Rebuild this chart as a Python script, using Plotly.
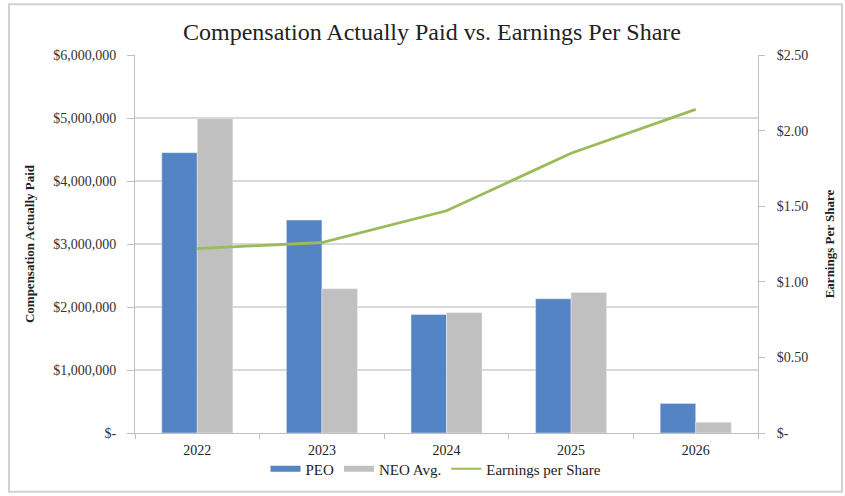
import plotly.graph_objects as go

years = ["2022", "2023", "2024", "2025", "2026"]
peo = [4450000, 3380000, 1880000, 2130000, 470000]
neo_avg = [4990000, 2290000, 1910000, 2230000, 170000]
eps = [1.22, 1.26, 1.47, 1.85, 2.14]

left_ticks = [0, 1000000, 2000000, 3000000, 4000000, 5000000, 6000000]
left_text = ["$-", "$1,000,000", "$2,000,000", "$3,000,000", "$4,000,000", "$5,000,000", "$6,000,000"]
right_ticks = [0, 0.5, 1.0, 1.5, 2.0, 2.5]
right_text = ["$-", "$0.50", "$1.00", "$1.50", "$2.00", "$2.50"]

BLUE = "#5484C4"
GRAY = "#C0C0C0"
GREEN = "#9BBB59"
FONT = "Liberation Serif"

fig = go.Figure()
fig.add_trace(go.Bar(x=years, y=peo, name="PEO", marker_color=BLUE, showlegend=False))
fig.add_trace(go.Bar(x=years, y=neo_avg, name="NEO Avg.", marker_color=GRAY, showlegend=False))
fig.add_trace(go.Scatter(x=years, y=eps, name="Earnings per Share", mode="lines",
                         line=dict(color=GREEN, width=2.8), yaxis="y2", showlegend=False))

# legend entries with wide swatches
fig.add_trace(go.Scatter(x=[None], y=[None], mode="lines", name="PEO",
                         line=dict(color=BLUE, width=6)))
fig.add_trace(go.Scatter(x=[None], y=[None], mode="lines", name="NEO Avg.",
                         line=dict(color=GRAY, width=6)))
fig.add_trace(go.Scatter(x=[None], y=[None], mode="lines", name="Earnings per Share",
                         line=dict(color=GREEN, width=2)))

L, R, T, B = 135, 87, 55, 62
W, H = 845, 496
pw, ph = W - L - R, H - T - B

def px(x):
    return (x - L) / pw

def py(y):
    return (H - B - y) / ph

tick_font = dict(family=FONT, size=14, color="#333333")

fig.update_layout(
    width=W, height=H,
    margin=dict(l=L, r=R, t=T, b=B),
    paper_bgcolor="white", plot_bgcolor="white",
    font=dict(family=FONT, color="#333333", size=14),
    title=dict(text="Compensation Actually Paid vs. Earnings Per Share",
               x=px(432), xref="paper", xanchor="center",
               y=1 - 32 / H, yanchor="middle",
               font=dict(family=FONT, size=24, color="#222222")),
    barmode="group", bargap=0.43, bargroupgap=0,
    xaxis=dict(type="category", showline=True, linecolor="#BFBFBF", linewidth=1,
               ticks="outside", tickson="boundaries", ticklen=5, tickcolor="#BFBFBF",
               tickfont=dict(family=FONT, size=14, color="#222222"), showgrid=False,
               ticklabelstandoff=4),
    yaxis=dict(range=[0, 6000000], tickvals=left_ticks, ticktext=left_text,
               showgrid=True, gridcolor="#D9D9D9", gridwidth=1.5,
               showline=True, linecolor="#BFBFBF", linewidth=1,
               ticks="outside", ticklen=7, tickcolor="#BFBFBF",
               tickfont=tick_font, ticklabelstandoff=8,
               title=dict(text="<b>Compensation Actually Paid</b>",
                          font=dict(family=FONT, size=13, color="#222222"),
                          standoff=15),
               zeroline=False),
    yaxis2=dict(range=[0, 2.5], tickvals=right_ticks, ticktext=right_text,
                overlaying="y", side="right", showgrid=False,
                showline=True, linecolor="#BFBFBF", linewidth=1,
                ticks="outside", ticklen=6, tickcolor="#BFBFBF",
                tickfont=tick_font, ticklabelstandoff=9,
                title=dict(text="<b>Earnings Per Share</b>",
                           font=dict(family=FONT, size=13, color="#222222"),
                           standoff=17),
                zeroline=False),
    legend=dict(orientation="h", x=px(436), xanchor="center", y=py(469), yanchor="middle",
                font=dict(family=FONT, size=15, color="#222222"), itemwidth=30,
                bgcolor="rgba(0,0,0,0)"),
    shapes=[dict(type="rect", xref="paper", yref="paper",
                 x0=px(9), x1=px(842), y0=py(493), y1=py(4),
                 line=dict(color="#D0D0D0", width=2), fillcolor="rgba(0,0,0,0)", layer="below")],
)

fig.write_html("out.html")
